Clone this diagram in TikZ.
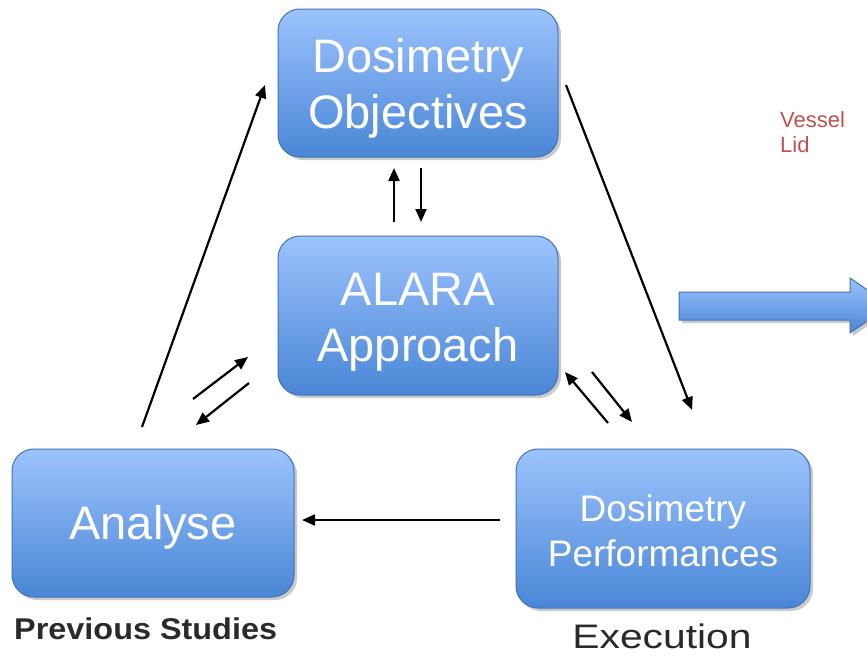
\documentclass[tikz,border=0pt]{standalone}
\usepackage{fontspec}
\setmainfont{Liberation Sans}
\usetikzlibrary{arrows.meta,shadows}
\definecolor{boxtop}{HTML}{9CC3FD}
\definecolor{boxbot}{HTML}{4A86D6}
\definecolor{boxline}{HTML}{4273BA}
\definecolor{lidred}{HTML}{C0504D}
\definecolor{labgray}{HTML}{2A2A2A}
\tikzset{
  bluebox/.style={draw=boxline, line width=1pt, rounded corners=22pt,
    top color=boxtop, bottom color=boxbot, inner sep=0pt,
    drop shadow={shadow xshift=3pt, shadow yshift=-3pt, opacity=0.35, fill=black!60}},
  boxtext/.style={text=white, align=center, inner sep=0pt},
  bigtext/.style={boxtext, font=\fontsize{47}{56}\selectfont},
  midtext/.style={boxtext, font=\fontsize{37}{45}\selectfont},
  flow/.style={line width=2.2pt, -{Triangle[length=13pt,width=11pt]}},
}
\begin{document}
\begin{tikzpicture}[x=1pt,y=-1pt]
\useasboundingbox (0,0) rectangle (867,656);
\node[bluebox,minimum width=280pt,minimum height=148pt] (obj) at (418,83) {};
\node[bluebox,minimum width=280pt,minimum height=159pt] (alara) at (418,315.5) {};
\node[bluebox,minimum width=282pt,minimum height=148pt] (analyse) at (153,523) {};
\node[bluebox,minimum width=294pt,minimum height=159pt] (perf) at (663,528.5) {};
\node[bigtext] (objt) at ([yshift=-5pt]obj.center) {Dosimetry\\Objectives};
\node[bigtext] (alarat) at ([yshift=-7pt]alara.center) {ALARA\\Approach};
\node[bigtext] (analyset) at ([yshift=-4pt]analyse.center) {Analyse};
\node[midtext] (perft) at ([yshift=-2pt]perf.center) {Dosimetry\\Performances};
% labels
\node[text=lidred, font=\fontsize{22}{25}\selectfont, align=left, anchor=north west, inner sep=0pt] (lid) at (780,111) {Vessel\\Lid};
\node[text=labgray, font=\bfseries\fontsize{30}{34}\selectfont, anchor=base west, inner sep=0pt, xscale=1.08] (prev) at (14,639) {Previous Studies};
\node[text=labgray, font=\fontsize{34}{40}\selectfont, anchor=base, inner sep=0pt, xscale=1.2] (exec) at (662,648) {Execution};
% coordinates of connector ends
\coordinate (l1) at (142,427); \coordinate (l2) at (265,85);
\coordinate (r1) at (566,85); \coordinate (r2) at (692,410);
\coordinate (b1) at (500,520); \coordinate (b2) at (302,520);
\coordinate (u1) at (394,222); \coordinate (u2) at (394,168);
\coordinate (d1) at (421,168); \coordinate (d2) at (421,222);
\coordinate (a1) at (193,399); \coordinate (a2) at (248,357);
\coordinate (a3) at (249,383); \coordinate (a4) at (196,425);
\coordinate (c1) at (608,423); \coordinate (c2) at (565,372);
\coordinate (c3) at (592,372); \coordinate (c4) at (632,422);
\draw[flow] (l1) -- (l2);
\draw[flow] (r1) -- (r2);
\draw[flow] (b1) -- (b2);
\draw[flow] (u1) -- (u2);
\draw[flow] (d1) -- (d2);
\draw[flow] (a1) -- (a2);
\draw[flow] (a3) -- (a4);
\draw[flow] (c1) -- (c2);
\draw[flow] (c3) -- (c4);
% block arrow
\begin{scope}
\clip (0,0) rectangle (867,656);
\shade[top color=boxtop, bottom color=boxbot, draw=boxline, line width=1pt,
  drop shadow={shadow xshift=3pt, shadow yshift=-3pt, opacity=0.35, fill=black!60}]
  (679,292) -- (850,292) -- (850,278) -- (890,305.5) -- (850,333) -- (850,320) -- (679,320) -- cycle;
\end{scope}
\end{tikzpicture}
\end{document}
